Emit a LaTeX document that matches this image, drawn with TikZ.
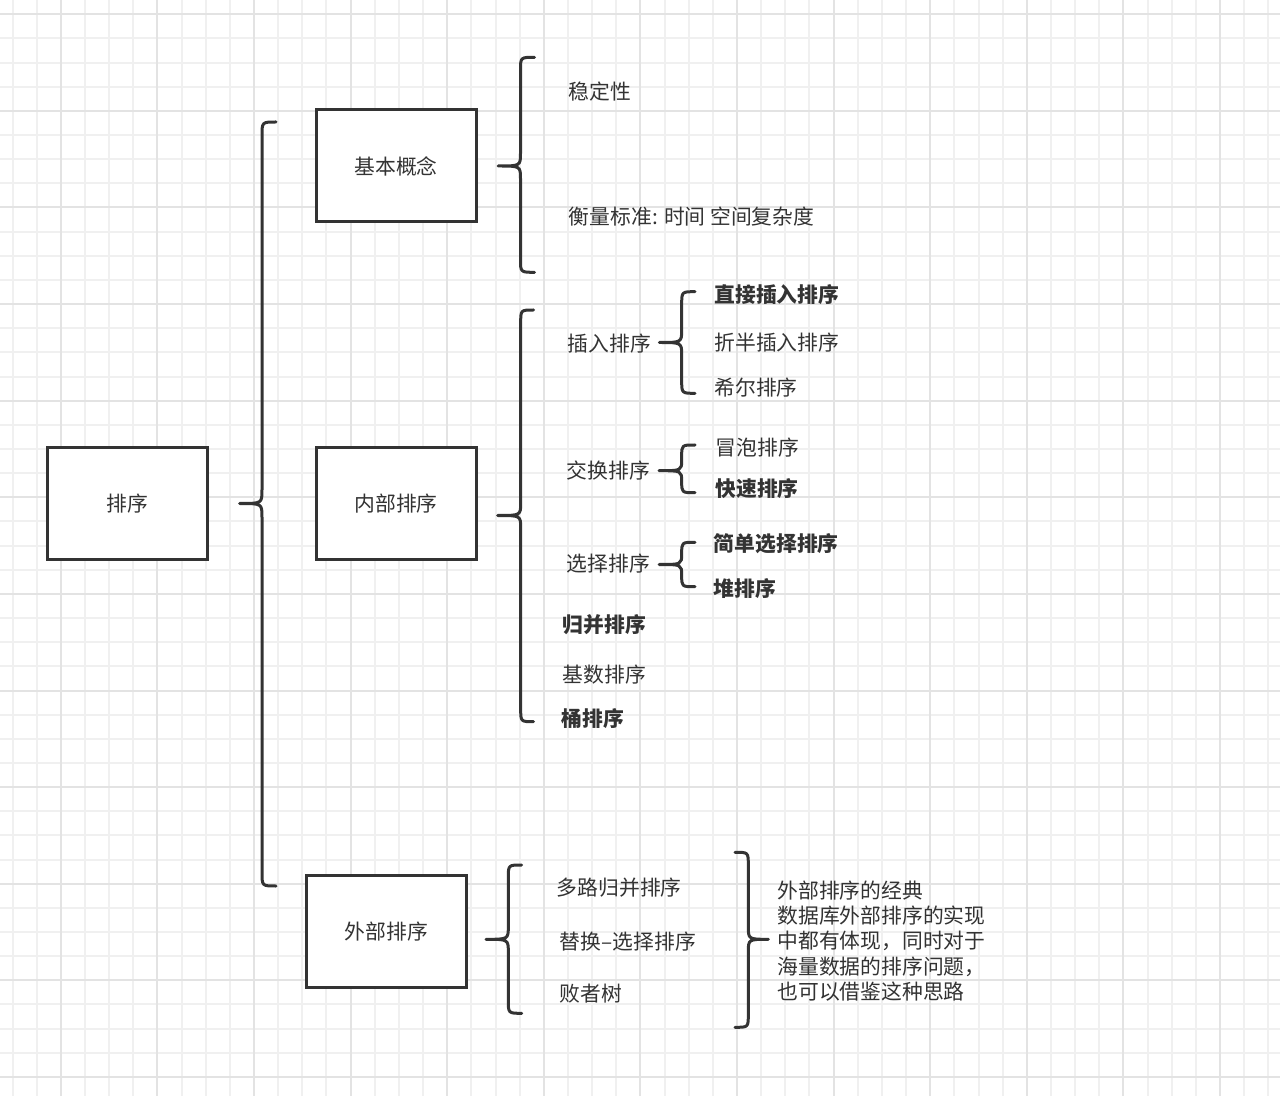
\documentclass[tikz,border=0pt]{standalone}
\usepackage{fontspec}
\setmainfont{Noto Sans CJK SC}
\usetikzlibrary{positioning}

\definecolor{ink}{HTML}{333333}
\definecolor{gridminor}{HTML}{F0F0F0}
\definecolor{gridmajor}{HTML}{E3E3E3}

% curly bracket: [radius]{end x}{stem x}{tip x}{top y}{tip y}{bottom y}
\newcommand{\curly}[7][13]{%
  \draw[brace] (#2,#5) .. controls (#3,#5) .. (#3,#5+#1) -- (#3,#6-#1)
    .. controls (#3,#6) .. (#4,#6) .. controls (#3,#6) .. (#3,#6+#1)
    -- (#3,#7-#1) .. controls (#3,#7) .. (#2,#7);}

\begin{document}
\begin{tikzpicture}[x=0.5pt,y=-0.5pt,
    font=\fontsize{10.4}{12.7}\selectfont,
    box/.style={draw=ink,line width=1.5pt,fill=white,text=ink,
      minimum width=80pt,minimum height=56pt,inner sep=0pt},
    lbl/.style={anchor=west,inner sep=0pt,text=ink},
    lblb/.style={lbl,font=\fontsize{10.4}{12.7}\selectfont\bfseries},
    brace/.style={draw=ink,line width=1.5pt,line cap=round,line join=round}]
  \useasboundingbox (0,0) rectangle (1280,1096);
  \fill[white] (0,0) rectangle (1280,1096);
  % grid
  \foreach \k in {0,...,52}
    \draw[gridminor,line width=1pt] ({12.5+24.15*\k},0) -- ({12.5+24.15*\k},1096);
  \foreach \k in {0,...,44}
    \draw[gridminor,line width=1pt] (0,{14.3+24.15*\k}) -- (1280,{14.3+24.15*\k});
  \foreach \k in {2,6,...,50}
    \draw[gridmajor,line width=1pt] ({12.5+24.15*\k},0) -- ({12.5+24.15*\k},1096);
  \foreach \k in {0,4,...,44}
    \draw[gridmajor,line width=1pt] (0,{14.3+24.15*\k}) -- (1280,{14.3+24.15*\k});

  % boxes
  \node[box] (sort)  at (127.5,503.5) {排序};
  \node[box] (basic) at (396,166)     {基本概念};
  \node[box] (inner) at (396,503.5)   {内部排序};
  \node[box] (outer) at (386.3,931.3) {外部排序};

  % braces
  \curly[14]{276}{262}{239.5}{122}{503.5}{886}
  \curly{534.5}{520.5}{498}{57.3}{166}{272.3}
  \curly{533.5}{520.7}{497.7}{310}{515.5}{721.7}
  \curly{695}{681.7}{659.3}{291.7}{342.5}{393.3}
  \curly[11]{695}{681.7}{659}{445}{470.7}{492.7}
  \curly[11]{695}{681.7}{659}{542.3}{564.5}{586.7}
  \curly{521.7}{508.3}{486}{865}{939.3}{1013.3}
  \curly{735}{748.3}{768.3}{852.3}{939.3}{1027.3}

  % basic concepts
  \node[lbl] (stable) at (568.5,91.7)  {稳定性};
  \node[lbl] (cost)   at (568.5,216.7) {衡量标准: 时间 空间复杂度};

  % internal sorting
  \node[lbl]  (ins)    at (567.5,343.3) {插入排序};
  \node[lblb] (dins)   at (714,295)     {直接插入排序};
  \node[lbl]  (bins)   at (714,342.7)   {折半插入排序};
  \node[lbl]  (shell)  at (714,387.3)   {希尔排序};
  \node[lbl]  (swap)   at (566.5,471)   {交换排序};
  \node[lbl]  (bubble) at (715.5,447.3) {冒泡排序};
  \node[lblb] (quick)  at (715,488.3)   {快速排序};
  \node[lbl]  (sel)    at (566.5,563.3) {选择排序};
  \node[lblb] (ssel)   at (713.5,543.3) {简单选择排序};
  \node[lblb] (heap)   at (713,588.3)   {堆排序};
  \node[lblb] (merge)  at (562.5,625)   {归并排序};
  \node[lbl]  (radix)  at (562.5,675)   {基数排序};
  \node[lblb] (bucket) at (561,718.3)   {桶排序};

  % external sorting
  \node[lbl] (kmerge) at (556.5,887.7) {多路归并排序};
  \node[lbl] (repl)   at (559.5,941.7) {替换–选择排序};
  \node[lbl] (loser)  at (559,993.3)   {败者树};
  \node[lbl,align=left] (note) at (777,941)
    {外部排序的经典\\数据库外部排序的实现\\中都有体现，同时对于\\海量数据的排序问题，\\也可以借鉴这种思路};
\end{tikzpicture}
\end{document}
